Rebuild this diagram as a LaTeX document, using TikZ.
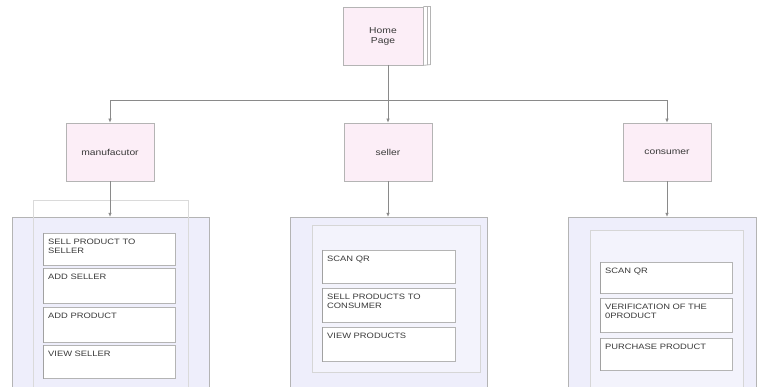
\documentclass[tikz,border=0pt]{standalone}
\usepackage{fontspec}
\setmainfont{Liberation Sans}
\newfontfamily\widefont[FakeStretch=1.2]{Liberation Sans}
\usetikzlibrary{arrows.meta}
\definecolor{pinkfill}{HTML}{FCEEF7}
\definecolor{lavfill}{HTML}{EEEEFB}
\definecolor{lavinner}{HTML}{F3F3FC}
\definecolor{edgegrey}{HTML}{B4B4B4}
\definecolor{linegrey}{HTML}{8A8A8A}
\definecolor{txt}{HTML}{3A3A3A}
\tikzset{
  rolebox/.style={draw=edgegrey, fill=pinkfill, line width=0.8pt, minimum width=88pt, minimum height=58pt, inner sep=0pt, text=txt, font=\widefont\fontsize{8.6}{10}\selectfont, align=center},
  container/.style={draw=edgegrey, fill=lavfill, line width=0.7pt},
  innerbox/.style={draw=edgegrey!55, fill=lavinner, line width=0.5pt},
  itembox/.style={draw=edgegrey, fill=white, line width=0.6pt, anchor=north west, inner sep=0pt},
  itemtext/.style={anchor=north west, inner sep=0pt, text=txt, font=\widefont\fontsize{7.8}{8.6}\selectfont, align=left},
  conn/.style={draw=linegrey, line width=0.6pt, -{Latex[length=4pt,width=3.5pt]}},
}
\newcommand{\itemnode}[6]{%
  \node[itembox, minimum width=#4pt, minimum height=#5pt] (#1) at (#2,#3) {};
  \draw[linegrey!80, line width=0.9pt] (#1.north west) -- (#1.south west);
  \node[itemtext] at ([xshift=5pt,yshift=-6pt]#1.north west) {#6};
}
\begin{document}
\begin{tikzpicture}[x=1pt,y=-1pt]
\useasboundingbox (0,0) rectangle (757,387);
\fill[white] (0,0) rectangle (757,387);

% Home page
\node[rolebox, minimum width=80pt] (home) at (383,36) {Home\\Page};
\draw[edgegrey, line width=0.8pt] (home.north east) -- ++(7,0) -- ++(0,58) -- (home.south east);
\draw[edgegrey, line width=0.6pt] ([xshift=3.5pt]home.north east) -- ([xshift=3.5pt]home.south east);

% role boxes
\node[rolebox] (manu) at (110,152) {manufacutor};
\node[rolebox] (sell) at (388,152) {seller};
\node[rolebox] (cons) at (667,152) {consumer};

% connectors from home
\coordinate (split) at (388,100);
\draw[linegrey, line width=0.6pt] (388,65) -- (split);
\draw[conn] (split) -- (sell.north);
\draw[conn] (split) -| (manu.north);
\draw[conn] (split) -| (cons.north);

% containers
\draw[container] (12,217) rectangle (209,392);
\node[inner sep=0pt, minimum size=0pt] (mc) at (110,217) {};
\draw[edgegrey!50, line width=0.5pt] (33,392) -- (33,200) -- (188,200) -- (188,392);

\draw[container] (290,217) rectangle (487,392);
\node[inner sep=0pt, minimum size=0pt] (sc) at (388,217) {};
\draw[innerbox] (312,225) rectangle (480,372);

\draw[container] (568,217) rectangle (756,392);
\node[inner sep=0pt, minimum size=0pt] (cc) at (667,217) {};
\draw[innerbox] (590,230) rectangle (743,392);

\draw[conn] (manu.south) -- (mc);
\draw[conn] (sell.south) -- (sc);
\draw[conn] (cons.south) -- (cc);

% manufacturer items
\itemnode{m1}{43}{233}{132}{32}{SELL PRODUCT TO\\SELLER}
\itemnode{m2}{43}{268}{132}{35}{ADD SELLER}
\itemnode{m3}{43}{307}{132}{35}{ADD PRODUCT}
\itemnode{m4}{43}{345}{132}{33}{VIEW SELLER}

% seller items
\itemnode{s1}{322}{250}{133}{33}{SCAN QR}
\itemnode{s2}{322}{288}{133}{34}{SELL PRODUCTS TO\\CONSUMER}
\itemnode{s3}{322}{327}{133}{34}{VIEW PRODUCTS}

% consumer items
\itemnode{c1}{600}{262}{132}{31}{SCAN QR}
\itemnode{c2}{600}{298}{132}{34}{VERIFICATION OF THE\\0PRODUCT}
\itemnode{c3}{600}{338}{132}{32}{PURCHASE PRODUCT}
\end{tikzpicture}
\end{document}
